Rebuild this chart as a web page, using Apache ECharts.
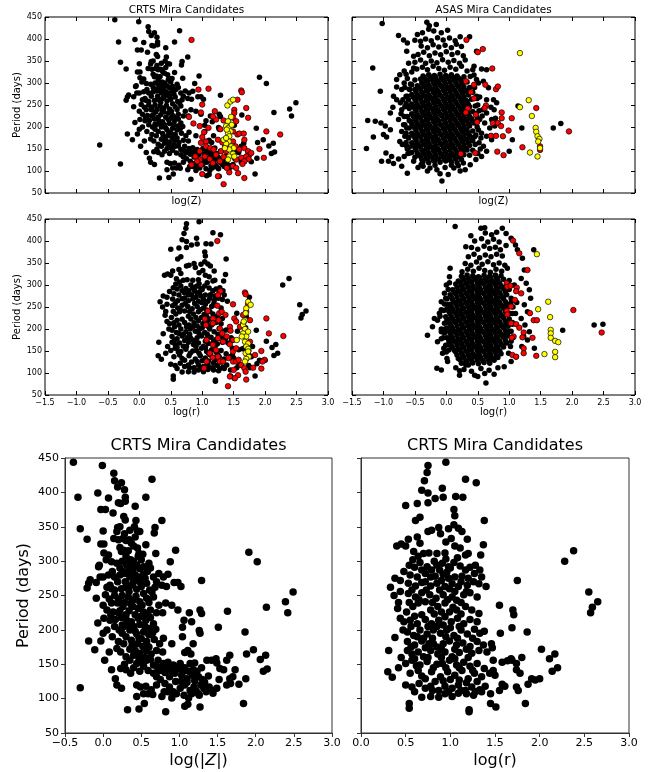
<!DOCTYPE html>
<html>
<head>
<meta charset="utf-8">
<title>Mira Candidates</title>
<script src="https://cdn.jsdelivr.net/npm/echarts@6/dist/echarts.min.js"></script>
<style>html,body{margin:0;padding:0;background:#fff;}</style>
</head>
<body>
<div id="main" style="width:653px;height:772px;"></div>
<script>
// CRTS, log(Z) vs period : black / red / yellow
var crtsZ = [[-0.39,444],[-0.01,439],[0.14,428],[0.15,417],[0.64,419],[0.24,414],[0.19,408],[0.28,404],[-0.33,393],[-0.07,399],[0.07,392],[0.56,393],[0.29,393],[0.20,385],[0.23,384],[0.29,387],[0.42,380],[-0.03,375],[0.03,375],[0.13,370],[0.27,365],[0.29,360],[0.43,359],[0.77,359],[-0.30,347],[-0.21,332],[0.19,349],[0.18,343],[0.22,350],[0.41,350],[0.45,344],[0.48,343],[0.00,344],[0.68,349],[0.67,341],[0.14,333],[0.20,331],[0.26,333],[0.34,331],[0.37,326],[-0.03,325],[0.01,325],[0.56,324],[0.45,319],[0.47,311],[0.52,310],[0.22,320],[0.27,316],[0.95,316],[0.01,312],[0.07,309],[-0.06,292],[-0.05,294],[0.04,302],[0.11,299],[0.18,297],[0.24,314],[0.30,307],[0.36,302],[0.60,297],[0.69,311],[0.88,299],[0.46,307],[0.50,302],
  [-0.17,273],[-0.19,268],[-0.21,261],[-0.09,269],[-0.04,277],[0.00,277],[-0.09,246],[0.03,251],[0.15,277],[0.22,280],[0.09,265],[0.11,260],
  [0.31,294],[0.36,292],[0.39,287],[0.44,294],[0.48,289],[0.53,292],[0.22,290],[0.26,285],[0.35,277],[0.42,280],[0.47,277],[0.53,281],
  [0.19,270],[0.29,270],[0.39,268],[0.48,270],[0.57,268],[0.66,277],[0.70,270],[0.15,258],[0.24,260],[0.34,256],[0.44,259],[0.53,253],[0.61,258],
  [0.73,282],[0.79,277],[0.85,281],[0.77,265],[0.83,263],[0.93,269],[0.98,269],[1.02,263],[1.29,272],
  [0.33,248],[0.39,243],[0.48,241],[0.57,246],[0.66,248],[0.11,239],[0.19,239],[0.26,234],[0.05,229],[0.13,226],[0.20,225],
  [0.39,234],[0.46,231],[0.53,226],[0.62,229],[0.73,236],[0.82,239],[0.90,236],[0.98,229],[0.78,225],[1.27,229],[1.29,224],
  [0.01,217],[0.09,214],[-0.07,210],[0.24,218],[0.31,214],[0.37,212],[0.46,217],[0.56,214],[0.66,209],[1.13,225],[1.06,214],[1.16,212],
  [0.15,205],[0.21,200],[0.27,205],[0.35,200],[0.44,194],[0.53,197],[0.61,202],[0.69,201],[0.30,190],[0.37,185],[0.47,188],[0.57,183],[0.67,186],
  [1.04,204],[1.26,199],[1.27,195],[1.51,204],[1.86,197],[-0.19,184],[-0.03,184],[-0.11,171],[0.90,180],[0.79,188],[0.74,180],[1.04,190],[1.18,180],
  [0.18,173],[0.23,168],[0.30,161],[0.35,156],[0.42,170],[0.48,166],[0.56,170],[0.63,165],[0.70,170],[0.78,168],[1.07,167],[1.11,170],[1.15,165],
  [0.02,156],[0.11,142],[0.16,129],[0.23,144],[0.30,142],[0.36,137],[0.44,151],[0.50,153],[0.57,156],
  [0.66,149],[0.72,156],[0.79,151],[0.85,153],[0.92,149],[1.01,151],[1.07,145],[1.14,151],[1.20,152],[1.29,145],[1.36,156],[1.42,156],[1.49,152],[1.48,158],
  [1.62,156],[1.66,163],[1.88,165],[1.97,171],[2.06,157],[2.13,163],[2.10,140],[2.15,143],[1.53,144],[1.58,142],[1.73,142],[1.87,129],[1.63,227],
  [0.59,141],[0.66,137],[0.74,141],[0.81,138],[0.87,132],[0.94,137],[1.03,134],[1.10,129],[1.17,134],[1.25,132],[1.30,128],[1.38,133],[1.52,128],[1.66,129],[1.70,132],
  [0.18,120],[0.24,115],[0.44,120],[0.49,117],[0.56,118],[0.63,113],[0.70,120],[0.81,122],[0.87,117],[0.92,110],[1.01,115],[1.07,120],[1.14,112],[1.19,117],[1.25,107],[1.32,115],[1.39,117],[1.44,112],[1.49,115],[1.62,120],[1.67,122],[1.78,121],[-0.30,116],
  [0.44,103],[0.53,107],[0.59,107],[0.65,106],[0.77,103],[0.85,110],[0.96,107],[1.06,105],[1.16,107],[1.26,105],[1.35,110],[1.44,108],
  [0.54,93],[0.32,84],[0.47,85],[0.82,81],[1.07,89],[1.11,92],[1.27,88],[1.84,93],
  [1.91,313],[2.02,299],[2.39,241],[2.42,225],[2.49,255],[2.14,233],[-0.63,159],
  [0.25,300],[0.32,297],[0.40,300],[0.28,282],[0.33,285],[0.37,265],[0.43,273],[0.50,263],[0.55,275],[0.58,285],[0.62,290],[0.25,250],[0.30,262],[0.20,245],[0.28,240],[0.36,238],[0.43,249],[0.51,236],[0.60,240],[0.64,255],[0.68,262],
  [0.16,215],[0.22,228],[0.30,222],[0.34,228],[0.42,222],[0.50,220],[0.58,222],[0.62,218],[0.70,225],[0.40,205],[0.48,208],[0.55,205],[0.25,195],[0.33,208],[0.42,198],[0.50,187],[0.60,193],[0.65,196],
  [0.38,178],[0.45,180],[0.52,176],[0.60,175],[0.27,180],[0.35,172],[0.40,163],[0.55,160],[0.62,157],[0.47,158],[0.28,150],[0.40,145],[0.48,140],[0.53,147],[0.71,146],[0.78,145],[0.85,145],[0.90,140],[0.98,143],[1.05,140],[1.12,140],[1.18,142],[1.23,140],
  [0.95,125],[1.02,125],[1.10,124],[1.20,126],[1.28,120],[1.33,124],[0.75,128],[0.70,132],[0.80,110],[0.90,101],[1.12,101],[1.22,111],
  [0.07,280],[0.05,262],[0.12,285],[0.08,245],[0.00,236],[0.15,250],[0.10,222],[0.05,200],[0.12,190],[0.20,183],[0.25,207],[0.08,168],[0.00,195],[0.30,330],[0.40,322],[0.33,315],[0.42,335],[0.35,345],[0.28,340]];
var crtsZRed = [[0.83,398],[0.94,285],[1.10,287],[1.00,251],[1.20,236],[0.98,233],[0.79,223],[0.86,208],[0.96,202],[1.10,198],[1.03,188],[1.00,177],[1.06,167],[0.98,164],[1.22,217],[1.29,195],[1.34,215],[1.56,262],[1.62,283],[1.63,279],[1.70,243],[1.51,239],[1.51,232],[1.49,221],[1.73,221],[1.54,213],[1.17,224],[1.49,190],[1.56,183],[1.59,185],[1.66,185],[1.67,171],[2.02,190],[2.24,183],[1.91,150],[1.98,130],[1.49,167],[1.53,156],[1.59,149],[1.67,152],[1.73,145],[1.75,137],[1.70,133],[1.78,141],[1.74,127],[1.62,130],[1.67,122],[1.64,116],[1.54,126],[1.49,111],[1.54,107],[1.57,95],[1.67,84],[1.43,97],[1.39,107],[1.34,70],[1.25,88],[1.00,93],[1.06,156],[1.13,152],[1.18,149],[1.22,137],[1.30,145],[1.38,145],[1.04,133],[1.12,127],[1.17,118],[1.28,122],[1.34,132],[0.96,145],[0.96,126],[0.98,114],[0.83,114],[0.89,133],[0.92,122],[1.25,171],[1.32,165]];
var crtsZYellow = [[1.40,249],[1.45,258],[1.49,262],[1.46,223],[1.41,213],[1.38,202],[1.42,198],[1.45,190],[1.41,186],[1.43,179],[1.47,205],[1.39,194],[1.42,167],[1.38,162],[1.46,156],[1.50,152],[1.43,149],[1.49,139],[1.43,133],[1.41,126],[1.51,133],[1.34,171],[1.38,175],[1.36,152]];

// CRTS, log(r) vs period
var crtsR = [[0.95,444],[0.75,439],[0.74,429],[0.71,417],[1.17,419],[1.29,414],[0.91,406],[0.68,403],[0.75,399],[0.92,393],[1.06,394],[1.14,393],[0.83,391],[0.50,381],[0.63,384],[0.75,385],[1.04,375],[1.05,366],[0.61,359],[0.66,364],[1.38,359],[0.75,343],[0.79,345],[0.87,349],[0.89,340],[0.98,347],[1.04,353],[1.09,348],[1.13,343],[1.19,332],[0.63,335],[0.66,326],[0.53,332],[0.40,322],[0.45,325],[0.50,322],[0.95,328],[1.01,333],[1.37,324],
  [0.59,314],[0.64,307],[0.70,311],[0.76,312],[0.85,311],[0.94,312],[1.05,322],[1.11,319],[1.17,309],[1.20,311],[1.34,309],[2.28,300],[2.38,315],
  [0.54,294],[0.60,291],[0.66,298],[0.74,292],[0.79,287],[0.85,294],[0.91,297],[0.98,292],[1.04,298],[1.11,293],[1.17,287],[1.22,291],[1.28,294],[1.33,287],
  [0.55,280],[0.63,277],[0.72,282],[0.78,277],[0.83,278],[0.92,281],[0.98,275],[1.05,277],[1.13,278],[1.20,275],[1.27,282],[1.35,277],
  [0.44,272],[0.53,268],[0.61,264],[0.68,269],[0.78,264],[0.85,268],[0.94,263],[1.02,267],[1.09,263],[1.19,265],[1.26,270],[1.32,267],[1.40,263],
  [0.33,262],[0.37,250],[0.44,256],
  [0.53,253],[0.61,248],[0.68,254],[0.77,251],[0.84,246],[0.92,251],[1.02,248],[1.07,243],[1.15,251],[1.22,254],[1.30,248],
  [0.41,231],[0.51,226],[0.58,234],[0.64,239],[0.72,241],[0.78,229],[0.86,234],[0.94,239],[0.99,226],[1.07,229],[1.17,234],[1.24,229],[1.32,224],
  [1.55,236],[1.70,229],[1.71,222],
  [0.44,217],[0.48,212],[0.55,214],[0.63,209],[0.72,215],[0.79,209],[0.87,214],[0.94,219],[1.01,212],[1.08,217],[1.15,209],[1.22,215],[1.30,212],
  [1.69,203],[1.86,197],[1.56,195],[1.38,198],[0.38,189],
  [0.52,197],[0.59,192],[0.66,200],[0.74,194],[0.81,200],[0.89,195],[0.96,200],[1.04,192],[1.12,200],[1.19,194],[1.27,201],[1.33,195],
  [0.52,183],[0.60,178],[0.68,184],[0.76,180],[0.85,175],[0.92,180],[0.99,184],[1.07,178],[1.14,181],[1.22,176],[1.30,183],[1.37,178],
  [0.31,170],[0.35,131],[0.30,139],
  [0.52,170],[0.57,165],[0.64,168],[0.70,161],[0.78,170],[0.86,165],[0.94,168],[1.02,161],[1.10,167],[1.18,172],[1.24,166],[1.32,170],[1.41,168],
  [1.46,180],[1.47,174],[2.02,172],[2.11,158],[2.17,165],[2.14,140],[2.20,145],
  [1.69,156],[1.80,160],[1.74,151],[1.74,142],[1.78,137],[1.58,153],[1.64,155],[1.68,158],[1.48,156],
  [0.50,151],[0.57,156],[0.66,149],[0.74,154],[0.81,145],[0.91,151],[0.99,156],[1.07,149],[1.15,153],[1.22,147],[1.30,151],[1.38,144],
  [0.55,137],[0.64,141],[0.72,129],[0.79,139],[0.89,132],[0.97,139],[1.05,134],[1.13,141],[1.20,129],[1.27,137],[1.35,132],[1.44,137],
  [1.48,141],[1.50,134],[1.91,129],[1.87,121],[1.95,127],[2.00,129],
  [0.50,120],[0.57,117],[0.72,115],[0.78,118],[0.87,112],[0.94,118],[1.02,115],[1.09,120],[1.17,112],[1.24,117],[1.33,113],[1.39,118],
  [1.58,121],[1.61,118],[1.74,117],[1.76,112],
  [0.68,102],[0.78,103],[0.87,102],[0.94,107],[1.02,103],[1.09,108],[1.18,107],[1.26,105],[1.35,110],[1.45,107],[1.55,112],
  [0.54,93],[0.54,86],[1.45,93],[1.51,88],[1.84,93],[1.21,84],[1.21,81],
  [2.55,255],[2.57,225],[2.59,233],[2.65,241],[1.75,272],
  [0.58,302],[0.68,287],[0.82,300],[0.95,303],[1.08,305],[0.88,287],[0.96,284],[1.00,290],[0.72,270],[0.90,272],[0.99,260],[1.12,270],[0.57,258],[0.73,258],[0.88,258],[1.05,256],[1.18,256],
  [0.65,244],[0.80,240],[0.97,244],[1.12,240],[0.54,240],[0.68,222],[0.82,223],[0.90,226],[1.03,233],[1.12,223],[0.60,220],[0.75,205],[0.85,205],[0.92,207],[1.00,203],[1.10,205],[0.56,205],
  [0.63,190],[0.70,188],[0.80,188],[0.95,190],[1.08,188],[1.25,188],[0.56,175],[0.72,174],[0.81,180],[0.90,172],[1.05,172],[0.60,158],[0.75,160],[0.90,160],[1.05,158],[1.20,160],
  [0.62,148],[0.85,150],[0.95,145],[1.10,145],[1.25,141],[0.68,133],[0.83,125],[0.92,126],[1.00,128],[1.10,127],[1.18,123],[1.30,125],[0.65,122],[0.80,112],[0.98,110],[1.12,112],[1.28,110],[0.60,110],
  [0.45,160],[0.42,145],[0.47,200],[0.42,240],[0.48,285],[0.38,275]];
var crtsRRed = [[1.24,400],[1.29,286],[1.25,277],[1.24,253],[1.09,241],[1.27,236],[1.31,239],[1.37,232],[1.04,223],[1.17,224],[1.06,209],[1.17,213],[1.26,220],[1.49,256],[1.51,224],[1.54,217],[1.65,232],[1.70,239],[1.73,256],[1.68,283],[1.69,279],[1.60,205],[1.65,212],[1.76,220],[1.44,205],[1.45,196],[1.28,201],[1.32,190],[1.25,179],[1.33,171],[1.39,183],[1.49,175],[1.07,175],[1.17,164],[1.22,152],[1.12,145],[1.17,135],[1.25,137],[1.28,126],[1.33,126],[1.03,111],[1.07,126],[1.44,165],[1.49,149],[1.54,156],[1.42,134],[1.49,126],[1.54,126],[1.58,130],[1.62,118],[1.67,111],[1.69,103],[1.50,107],[1.57,95],[1.52,88],[1.44,92],[1.41,70],[1.70,85],[1.81,112],[1.84,141],[1.99,130],[1.96,126],[1.94,150],[2.06,190],[2.02,224],[2.29,184],[1.94,110],[1.76,171]];
var crtsRYellow = [[1.73,262],[1.77,255],[1.70,247],[1.69,236],[1.68,220],[1.65,209],[1.68,200],[1.65,190],[1.70,183],[1.68,171],[1.73,167],[1.70,160],[1.73,155],[1.69,145],[1.74,137],[1.70,132],[1.68,126],[1.73,149],[1.55,175],[1.73,194],[1.63,183],[1.66,217]];

// ASAS, log(Z) vs period (outer stars, then the crowded middle)
var asasZ = [[-1.02,435],[-1.17,334],[-1.05,281],[-1.25,215],[-1.13,213],[-1.16,177],[-1.27,151],[-1.04,209],[-0.97,202],[-0.89,194],[-0.95,177],[-1.00,183],[-0.96,141],[-1.03,122],[-0.92,122],[-0.87,133],[-0.84,117],[-0.76,127],[-0.71,111],[-0.62,95],[-0.89,232],[-0.85,245],[-0.79,262],[-0.84,270],[-0.76,408],[-0.68,398],[-0.62,391],[-0.79,308],[-0.74,319],[-0.67,327],[-0.79,291],[-0.31,438],[-0.27,430],[-0.16,433],[-0.46,410],[-0.38,414],[-0.50,397],[-0.41,395],[-0.63,372],[-0.52,361],[-0.60,345],[-0.52,334],[-0.67,300],[-0.71,285],[-0.64,270],[-0.73,255],[-0.71,239],[-0.67,224],[-0.76,217],[-0.66,205],[-0.71,190],[-0.66,179],[-0.74,167],[-0.63,156],[-0.58,141],[-0.67,133],[-0.52,122],[-0.37,111],[-0.26,107],[-0.15,103],[-0.07,77],[-0.10,94],[0.03,92],[0.12,107],[0.19,112],[0.30,103],[0.27,118],[0.37,405],[0.48,372],[0.44,338],[0.56,332],[0.64,330],[0.38,315],[0.48,308],[0.59,304],[0.67,289],[0.64,262],[0.71,245],[0.58,239],[0.64,232],[0.53,217],[0.61,209],[0.69,198],[0.77,202],[0.56,186],[0.64,179],[0.72,171],[0.52,164],[0.59,156],[0.64,145],[0.56,133],[0.47,126],[0.38,114],[1.00,145],[1.05,171],[1.20,198],[1.70,198],[1.82,208],[1.14,248],[0.75,262],[0.80,255],[0.76,239],[0.72,217],[0.78,220],
  [-0.55,325],[-0.47,332],[-0.38,336],[-0.30,330],[-0.21,338],[-0.12,333],[-0.03,329],[0.06,336],[0.15,331],[0.24,338],[0.33,327],
  [-0.50,347],[-0.41,352],[-0.33,345],[-0.24,350],[-0.15,346],[-0.06,353],[0.03,347],[0.12,351],[0.21,345],[0.30,352],
  [-0.45,365],[-0.36,370],[-0.27,362],[-0.18,368],[-0.09,364],[0.00,371],[0.09,365],[0.18,369],[0.27,362],
  [-0.40,384],[-0.30,380],[-0.21,387],[-0.12,382],[-0.02,386],[0.08,380],[0.16,388],[0.24,383],
  [-0.33,400],[-0.24,396],[-0.14,403],[-0.05,398],[0.05,402],[0.14,396],[0.22,405],
  [-0.20,418],[-0.08,414],[0.02,420],[-0.28,422],
  [-0.62,150],[-0.60,175],[-0.63,198],[-0.59,215],[-0.62,248],[-0.60,262],[-0.58,285],[-0.62,310],[-0.57,298],[-0.64,320],
  [0.45,290],[0.48,270],[0.50,250],[0.47,230],[0.49,200],[0.45,178],[0.50,140],[0.44,318],[0.42,330],
  [-0.45,108],[-0.30,100],[-0.18,113],[-0.02,108],[0.08,113],[0.22,100],[-0.40,115],
  [-0.70,160],[-0.68,205],[-0.72,230],[-0.69,262],[-0.66,290],[-0.61,140],[-0.66,246],[0.55,175],[0.57,225],[0.53,268],[0.54,150],[0.51,300],
  [-0.37,121],[-0.28,119],[-0.19,122],[-0.10,120],[-0.01,123],[0.08,121],[0.17,119],
  [-0.39,126],[-0.30,127],[-0.21,125],[-0.12,127],[-0.03,126],[0.06,125],[0.15,127],[0.24,126],
  [-0.50,131],[-0.41,133],[-0.32,130],[-0.23,132],[-0.14,129],[-0.05,132],[0.04,130],[0.13,133],[0.22,131],
  [-0.44,136],[-0.35,138],[-0.26,137],[-0.17,136],[-0.08,138],[0.01,137],[0.10,136],[0.19,138],[0.28,137],[0.37,136],
  [-0.55,142],[-0.46,140],[-0.37,143],[-0.28,141],[-0.19,144],[-0.10,141],[-0.01,143],[0.08,140],[0.17,142],[0.26,144],
  [-0.48,148],[-0.39,147],[-0.30,149],[-0.21,148],[-0.12,147],[-0.03,149],[0.06,148],[0.15,147],[0.24,149],[0.33,148],[0.42,147],
  [-0.59,154],[-0.50,153],[-0.41,155],[-0.32,152],[-0.23,154],[-0.14,151],[-0.05,153],[0.04,155],[0.13,152],[0.22,154],[0.31,151],
  [-0.53,159],[-0.44,158],[-0.35,160],[-0.26,159],[-0.17,158],[-0.08,160],[0.01,159],[0.10,158],[0.19,160],[0.28,159],[0.37,158],[0.46,160],
  [-0.64,165],[-0.55,164],[-0.46,162],[-0.37,165],[-0.28,163],[-0.19,166],[-0.10,163],[-0.01,165],[0.08,162],[0.17,164],[0.26,166],[0.35,163],
  [-0.48,170],[-0.39,169],[-0.30,171],[-0.21,170],[-0.12,169],[-0.03,171],[0.06,170],[0.15,169],[0.24,171],[0.33,170],[0.42,169],
  [-0.60,176],[-0.50,175],[-0.41,177],[-0.32,174],[-0.23,176],[-0.14,173],[-0.05,175],[0.04,177],[0.13,174],[0.22,176],[0.31,173],[0.40,175],
  [-0.53,181],[-0.44,180],[-0.35,182],[-0.26,181],[-0.17,180],[-0.08,182],[0.01,181],[0.10,180],[0.19,182],[0.28,181],[0.37,180],[0.47,182],
  [-0.64,186],[-0.55,186],[-0.46,184],[-0.37,187],[-0.28,185],[-0.19,188],[-0.10,185],[-0.01,187],[0.08,184],[0.17,186],[0.26,188],[0.35,185],
  [-0.48,192],[-0.39,191],[-0.30,193],[-0.21,192],[-0.12,191],[-0.03,193],[0.06,192],[0.15,191],[0.24,193],[0.33,192],[0.42,191],[0.51,193],
  [-0.59,198],[-0.50,197],[-0.41,199],[-0.32,196],[-0.23,198],[-0.14,195],[-0.05,197],[0.04,199],[0.13,196],[0.22,198],[0.31,195],
  [-0.53,203],[-0.44,202],[-0.35,204],[-0.26,203],[-0.17,202],[-0.08,204],[0.01,203],[0.10,202],[0.19,204],[0.28,203],[0.37,202],
  [-0.55,208],[-0.46,206],[-0.37,209],[-0.28,207],[-0.19,210],[-0.10,207],[-0.01,209],[0.08,206],[0.17,208],[0.26,210],[0.35,207],[0.44,209],
  [-0.57,213],[-0.48,214],[-0.39,213],[-0.30,215],[-0.21,214],[-0.12,213],[-0.03,215],[0.06,214],[0.15,213],[0.24,215],[0.33,214],[0.42,213],
  [-0.50,219],[-0.41,221],[-0.32,218],[-0.23,220],[-0.14,217],[-0.05,219],[0.04,221],[0.13,218],[0.22,220],[0.31,217],[0.40,219],[0.49,221],
  [-0.62,224],[-0.53,225],[-0.44,224],[-0.35,226],[-0.26,225],[-0.17,224],[-0.08,226],[0.01,225],[0.10,224],[0.19,226],[0.28,225],[0.37,224],
  [-0.55,230],[-0.46,228],[-0.37,231],[-0.28,229],[-0.19,232],[-0.10,229],[-0.01,231],[0.08,228],[0.17,230],[0.26,232],[0.35,229],
  [-0.48,236],[-0.39,235],[-0.30,237],[-0.21,236],[-0.12,235],[-0.03,237],[0.06,236],[0.15,235],[0.24,237],[0.33,236],[0.42,235],[0.52,237],
  [-0.59,242],[-0.50,241],[-0.41,243],[-0.32,240],[-0.23,242],[-0.14,239],[-0.05,241],[0.04,243],[0.13,240],[0.22,242],[0.31,239],
  [-0.53,247],[-0.44,246],[-0.35,248],[-0.26,247],[-0.17,246],[-0.08,248],[0.01,247],[0.10,246],[0.19,248],[0.28,247],[0.37,246],[0.46,248],
  [-0.64,253],[-0.55,252],[-0.46,250],[-0.37,253],[-0.28,251],[-0.19,254],[-0.10,251],[-0.01,253],[0.08,250],[0.17,252],[0.26,254],[0.35,251],
  [-0.48,258],[-0.39,257],[-0.30,259],[-0.21,258],[-0.12,257],[-0.03,259],[0.06,258],[0.15,257],[0.24,259],[0.33,258],
  [-0.50,263],[-0.41,265],[-0.32,262],[-0.23,264],[-0.14,261],[-0.05,263],[0.04,265],[0.13,262],[0.22,264],[0.31,261],[0.40,263],[0.49,265],
  [-0.62,270],[-0.53,269],[-0.44,268],[-0.35,270],[-0.26,269],[-0.17,268],[-0.08,270],[0.01,269],[0.10,268],[0.19,270],[0.28,269],
  [-0.55,274],[-0.46,272],[-0.37,275],[-0.28,273],[-0.19,276],[-0.10,273],[-0.01,275],[0.08,272],[0.17,274],[0.26,276],[0.35,273],
  [-0.48,280],[-0.39,279],[-0.30,281],[-0.21,280],[-0.12,279],[-0.03,281],[0.06,280],[0.15,279],[0.24,281],[0.33,280],[0.42,279],
  [-0.59,286],[-0.50,285],[-0.41,287],[-0.32,284],[-0.23,286],[-0.14,283],[-0.05,285],[0.04,287],[0.13,284],[0.22,286],[0.31,283],
  [-0.44,290],[-0.35,292],[-0.26,291],[-0.17,290],[-0.08,292],[0.01,291],[0.10,290],[0.19,292],[0.28,291],[0.37,290],
  [-0.55,296],[-0.46,294],[-0.37,297],[-0.28,295],[-0.19,298],[-0.10,295],[-0.01,297],[0.08,294],[0.17,296],[0.26,298],
  [-0.39,301],[-0.30,303],[-0.21,302],[-0.12,301],[-0.03,303],[0.06,302],[0.15,301],[0.24,303],[0.33,302],
  [-0.50,307],[-0.41,309],[-0.32,306],[-0.23,308],[-0.14,305],[-0.05,307],[0.04,309],[0.13,306],[0.22,308],
  [-0.35,312],[-0.26,314],[-0.17,313],[-0.08,312],[0.01,314],[0.10,313],[0.19,312],[0.28,314],
  [-0.37,316],[-0.28,319],[-0.19,317],[-0.10,320],[-0.01,317],[0.08,319],[0.17,316]];
var asasZRed = [[0.32,398],[0.50,370],[0.58,377],[0.73,333],[0.31,304],[0.44,296],[0.62,296],[0.79,286],[0.82,292],[0.39,279],[0.44,265],[0.34,242],[0.31,233],[0.63,249],[0.61,243],[0.47,228],[0.49,211],[0.88,233],[0.88,220],[1.04,220],[0.74,209],[0.82,209],[0.87,202],[0.90,179],[0.71,180],[0.79,180],[0.99,192],[0.81,144],[0.91,136],[1.21,154],[0.23,139],[0.46,141],[1.43,243],[1.49,156],[1.49,148],[1.95,190]];
var asasZYellow = [[1.17,368],[1.31,261],[1.17,245],[1.36,225],[1.42,198],[1.43,189],[1.45,179],[1.48,173],[1.46,167],[1.33,142],[1.45,133],[1.49,152]];

// ASAS, log(r) vs period (outer stars, then the crowded middle)
var asasR = [[0.14,433],[0.55,429],[0.61,430],[0.39,412],[0.31,387],[0.06,338],[-0.30,186],[-0.22,205],[-0.14,220],[-0.08,194],[-0.15,111],[-0.08,107],[0.02,126],[0.00,148],[0.21,95],[0.21,105],[0.31,118],[0.50,92],[0.61,99],[0.76,97],[0.63,77],[-0.08,262],[-0.03,281],[0.00,300],[0.05,319],[-0.11,236],[-0.19,224],[-0.14,171],[-0.04,156],[0.01,133],[0.89,429],[0.95,417],[1.03,406],[1.10,391],[1.13,380],[1.21,361],[1.24,334],[1.19,315],[1.27,304],[1.32,289],[1.34,270],[1.24,255],[1.29,239],[1.19,224],[1.25,209],[1.32,194],[1.23,183],[1.29,175],[1.20,160],[1.11,137],[1.03,126],[0.92,114],[1.39,380],[1.40,156],[1.85,197],[2.35,209],[2.49,211],
  [0.25,330],[0.34,336],[0.43,331],[0.52,338],[0.61,333],[0.70,329],[0.79,336],[0.88,331],[0.97,338],
  [0.30,349],[0.39,345],[0.48,352],[0.57,347],[0.66,353],[0.75,346],[0.84,350],[0.93,345],
  [0.35,364],[0.44,370],[0.53,362],[0.62,368],[0.71,364],[0.80,370],[0.89,366],
  [0.40,385],[0.50,381],[0.60,388],[0.69,383],[0.78,386],[0.86,380],[0.95,390],
  [0.45,400],[0.56,405],[0.66,398],[0.75,404],[0.84,398],
  [0.62,418],[0.72,414],[0.80,420],
  [-0.05,180],[-0.02,200],[0.00,215],[-0.04,242],[0.02,255],[-0.01,270],[0.03,165],[-0.06,145],[0.03,290],[0.05,305],
  [1.00,290],[1.03,270],[1.06,250],[1.02,235],[1.05,215],[1.00,195],[1.06,180],[1.02,160],[0.99,145],[1.00,310],[1.08,300],[1.10,235],[1.12,260],
  [0.15,112],[0.28,108],[0.40,104],[0.55,110],[0.68,106],[0.82,112],[0.45,95],[0.35,118],
  [0.24,122],[0.33,125],[0.42,123],[0.51,121],[0.60,124],[0.69,122],
  [0.22,130],[0.31,128],[0.40,130],[0.49,129],[0.58,128],[0.67,130],[0.76,129],
  [0.19,133],[0.28,136],[0.37,134],[0.46,137],[0.55,134],[0.64,136],[0.73,133],[0.82,135],
  [0.17,141],[0.26,139],[0.35,141],[0.44,140],[0.53,139],[0.62,141],[0.71,140],[0.80,139],
  [0.15,148],[0.24,145],[0.33,147],[0.42,144],[0.51,146],[0.60,148],[0.69,145],[0.78,147],[0.87,144],
  [0.04,152],[0.13,151],[0.22,152],[0.31,150],[0.40,152],[0.49,151],[0.58,150],[0.67,152],[0.76,151],[0.85,150],
  [0.10,157],[0.19,155],[0.28,158],[0.37,156],[0.46,159],[0.55,156],[0.64,158],[0.73,155],[0.82,157],[0.91,159],
  [-0.01,163],[0.08,162],[0.17,163],[0.26,161],[0.35,163],[0.44,162],[0.53,161],[0.62,163],[0.71,162],[0.80,161],[0.89,163],
  [0.06,168],[0.15,170],[0.24,167],[0.33,169],[0.42,166],[0.51,168],[0.60,170],[0.69,167],[0.78,169],[0.87,166],[0.96,168],
  [0.04,174],[0.13,173],[0.22,174],[0.31,172],[0.40,174],[0.49,173],[0.58,172],[0.67,174],[0.76,173],[0.85,172],[0.94,174],[1.03,172],
  [-0.08,178],[0.01,180],[0.10,179],[0.19,177],[0.28,180],[0.37,178],[0.46,181],[0.55,178],[0.64,180],[0.73,177],[0.82,179],[0.91,181],
  [0.08,184],[0.17,185],[0.26,183],[0.35,185],[0.44,184],[0.53,183],[0.62,185],[0.71,184],[0.80,183],[0.89,185],[0.98,184],
  [-0.03,191],[0.06,190],[0.15,192],[0.24,189],[0.33,191],[0.42,188],[0.51,190],[0.60,192],[0.69,189],[0.78,191],[0.87,188],[0.96,190],
  [0.04,196],[0.13,195],[0.22,196],[0.31,194],[0.40,196],[0.49,195],[0.58,194],[0.67,196],[0.76,195],[0.85,194],[0.94,196],[1.03,195],
  [-0.08,200],[0.01,202],[0.10,201],[0.19,199],[0.28,202],[0.37,200],[0.46,203],[0.55,200],[0.64,202],[0.73,199],[0.82,201],[0.91,203],
  [0.08,206],[0.17,207],[0.26,205],[0.35,207],[0.44,206],[0.53,205],[0.62,207],[0.71,206],[0.80,205],[0.89,207],[0.98,206],
  [-0.03,213],[0.06,212],[0.15,214],[0.24,211],[0.33,213],[0.42,210],[0.51,212],[0.60,214],[0.69,211],[0.78,213],[0.87,210],[0.96,212],[1.05,211],
  [0.04,218],[0.13,217],[0.22,218],[0.31,216],[0.40,218],[0.49,217],[0.58,216],[0.67,218],[0.76,217],[0.85,216],[0.94,218],
  [0.01,222],[0.10,223],[0.19,221],[0.28,224],[0.37,222],[0.46,225],[0.55,222],[0.64,224],[0.73,221],[0.82,223],[0.91,225],[1.00,223],
  [-0.10,229],[-0.01,228],[0.08,228],[0.17,229],[0.26,227],[0.35,229],[0.44,228],[0.53,227],[0.62,229],[0.71,228],[0.80,227],[0.89,229],
  [0.06,234],[0.15,236],[0.24,233],[0.33,235],[0.42,232],[0.51,234],[0.60,236],[0.69,233],[0.78,235],[0.87,232],[0.96,234],[1.05,235],
  [0.04,240],[0.13,239],[0.22,240],[0.31,238],[0.40,240],[0.49,239],[0.58,238],[0.67,240],[0.76,239],[0.85,238],[0.94,240],
  [-0.08,244],[0.01,246],[0.10,245],[0.19,243],[0.28,246],[0.37,244],[0.46,247],[0.55,244],[0.64,246],[0.73,243],[0.82,245],[0.91,247],
  [0.08,250],[0.17,251],[0.26,249],[0.35,251],[0.44,250],[0.53,249],[0.62,251],[0.71,250],[0.80,249],[0.89,251],[0.98,250],
  [-0.03,257],[0.06,256],[0.15,258],[0.24,255],[0.33,257],[0.42,254],[0.51,256],[0.60,258],[0.69,255],[0.78,257],[0.87,254],[0.96,256],
  [0.13,261],[0.22,262],[0.31,260],[0.40,262],[0.49,261],[0.58,260],[0.67,262],[0.76,261],[0.85,260],[0.94,262],[1.03,261],
  [0.01,268],[0.10,267],[0.19,265],[0.28,268],[0.37,266],[0.46,269],[0.55,266],[0.64,268],[0.73,265],[0.82,267],[0.91,269],
  [0.08,272],[0.17,273],[0.26,271],[0.35,273],[0.44,272],[0.53,271],[0.62,273],[0.71,272],[0.80,271],[0.89,273],
  [0.06,278],[0.15,280],[0.24,277],[0.33,279],[0.42,276],[0.51,278],[0.60,280],[0.69,277],[0.78,279],[0.87,276],[0.96,278],
  [0.13,283],[0.22,284],[0.31,282],[0.40,284],[0.49,283],[0.58,282],[0.67,284],[0.76,283],[0.85,282],[0.94,284],
  [0.10,289],[0.19,287],[0.28,290],[0.37,288],[0.46,291],[0.55,288],[0.64,290],[0.73,287],[0.82,289],[0.91,291],
  [0.17,295],[0.26,293],[0.35,295],[0.44,294],[0.53,293],[0.62,295],[0.71,294],[0.80,293],[0.89,295],
  [0.15,302],[0.24,299],[0.33,301],[0.42,298],[0.51,300],[0.60,302],[0.69,299],[0.78,301],[0.87,298],[0.96,300],
  [0.22,306],[0.31,304],[0.40,306],[0.49,305],[0.58,304],[0.67,306],[0.76,305],[0.85,304],
  [0.19,309],[0.28,312],[0.37,310],[0.46,313],[0.55,310],[0.64,312],[0.73,309],[0.82,311],[0.91,313],
  [0.26,317],[0.35,315],[0.44,317],[0.53,316],[0.62,315],[0.71,317],[0.80,316],
  [0.24,320],[0.33,323],[0.42,321],[0.51,319],[0.60,322],[0.69,320],[0.78,323],[0.87,321]];
var asasRRed = [[1.06,401],[1.16,372],[1.29,334],[0.96,304],[0.97,296],[1.02,298],[1.12,294],[1.11,286],[1.19,281],[1.09,266],[1.03,251],[0.96,241],[0.97,233],[1.33,236],[1.03,213],[1.11,211],[1.16,203],[1.23,192],[1.39,220],[1.44,220],[1.21,181],[1.07,183],[1.04,180],[1.37,180],[1.23,156],[1.23,145],[1.05,141],[1.11,137],[1.43,139],[2.02,243],[2.47,192]];
var asasRYellow = [[1.44,370],[1.46,245],[1.62,262],[1.65,227],[1.66,198],[1.66,190],[1.66,180],[1.73,173],[1.78,170],[1.73,148],[1.73,136],[1.56,143]];

var font = 'DejaVu Sans';
var fmt = function (v) { return (v < 0 ? '\u2212' : '') + Math.abs(v).toFixed(1); };

var grids = [], xAxes = [], yAxes = [], series = [];

function addSeries(ax, data, color, size, border) {
    series.push({
        type: 'scatter', xAxisIndex: ax[0], yAxisIndex: ax[1], data: data,
        symbolSize: size, silent: true,
        itemStyle: { color: color, borderColor: '#000', borderWidth: border, opacity: 1 }
    });
}

// old matplotlib look: ticks inside on all four sides
function classicPanel(box, o) {
    var gi = grids.length;
    grids.push({ left: box[0], top: box[1], width: box[2], height: box[3], show: true, borderColor: '#000', borderWidth: 1, backgroundColor: 'rgba(0,0,0,0)' });
    var tick = { show: true, inside: true, length: 4, lineStyle: { color: '#000', width: 1 } };
    var line = { show: false, onZero: false };
    var xi = xAxes.length, yi = yAxes.length;
    xAxes.push({
        type: 'value', gridIndex: gi, min: -1.5, max: 3, interval: 0.5, position: 'bottom',
        axisLine: line, axisTick: tick, splitLine: { show: false },
        axisLabel: { show: o.xLabels, fontSize: 8, color: '#000', margin: 4, fontFamily: font, formatter: fmt },
        name: o.xName, nameLocation: 'middle', nameGap: o.xGap,
        nameTextStyle: { fontSize: 10, color: '#000', fontFamily: font }
    });
    xAxes.push({
        type: 'value', gridIndex: gi, min: -1.5, max: 3, interval: 0.5, position: 'top',
        axisLine: line, axisTick: tick, splitLine: { show: false }, axisLabel: { show: false }
    });
    yAxes.push({
        type: 'value', gridIndex: gi, min: 50, max: 450, interval: 50, position: 'left',
        axisLine: line, axisTick: tick, splitLine: { show: false },
        axisLabel: { show: o.yLabels, fontSize: 8, color: '#000', margin: 3, fontFamily: font },
        name: o.yLabels ? 'Period (days)' : '', nameLocation: 'middle', nameGap: 21,
        nameTextStyle: { fontSize: 10, color: '#000', fontFamily: font }
    });
    yAxes.push({
        type: 'value', gridIndex: gi, min: 50, max: 450, interval: 50, position: 'right',
        axisLine: line, axisTick: tick, splitLine: { show: false }, axisLabel: { show: false }
    });
    var ax = [xi, yi];
    addSeries(ax, o.black, '#000', 5.5, 0);
    addSeries(ax, o.red, '#ff0000', 5.5, 0.7);
    addSeries(ax, o.yellow, '#ffff00', 5.5, 0.7);
}

// newer matplotlib look: ticks outside, left and bottom only
function modernPanel(box, o) {
    var gi = grids.length;
    grids.push({ left: box[0], top: box[1], width: box[2], height: box[3], show: true, borderColor: '#333', borderWidth: 1, backgroundColor: 'rgba(0,0,0,0)' });
    var tick = { show: true, inside: false, length: 4, lineStyle: { color: '#333', width: 1 } };
    var line = { show: true, onZero: false, lineStyle: { color: '#333' } };
    var xi = xAxes.length, yi = yAxes.length;
    xAxes.push({
        type: 'value', gridIndex: gi, min: o.xMin, max: 3, interval: 0.5, position: 'bottom',
        axisLine: line, axisTick: tick, splitLine: { show: false },
        axisLabel: { fontSize: 11, color: '#000', margin: 5, fontFamily: font, formatter: fmt },
        name: o.xName, nameLocation: 'middle', nameGap: 20,
        nameTextStyle: { fontSize: 16, color: '#000', fontFamily: font,
            rich: { i: { fontStyle: 'italic', fontSize: 16, color: '#000', fontFamily: font } } }
    });
    yAxes.push({
        type: 'value', gridIndex: gi, min: 50, max: 450, interval: 50, position: 'left',
        axisLine: line, axisTick: tick, splitLine: { show: false },
        axisLabel: { show: o.yLabels, fontSize: 11, color: '#000', margin: 6, fontFamily: font },
        name: o.yLabels ? 'Period (days)' : '', nameLocation: 'middle', nameGap: 33,
        nameTextStyle: { fontSize: 16, color: '#000', fontFamily: font }
    });
    addSeries([xi, yi], o.black, '#000', 7.5, 0);
}

classicPanel([45, 17, 283, 176], { xLabels: false, yLabels: true, xName: 'log(Z)', xGap: 3, black: crtsZ, red: crtsZRed, yellow: crtsZYellow });
classicPanel([352, 17, 283, 176], { xLabels: false, yLabels: false, xName: 'log(Z)', xGap: 3, black: asasZ, red: asasZRed, yellow: asasZYellow });
classicPanel([45, 219, 283, 176], { xLabels: true, yLabels: true, xName: 'log(r)', xGap: 12, black: crtsR, red: crtsRRed, yellow: crtsRYellow });
classicPanel([352, 219, 283, 176], { xLabels: true, yLabels: false, xName: 'log(r)', xGap: 12, black: asasR, red: asasRRed, yellow: asasRYellow });
modernPanel([65, 458, 267, 275], { xMin: -0.5, yLabels: true, xName: 'log(|{i|Z}|)', black: crtsZ });
modernPanel([361, 458, 268, 275], { xMin: 0, yLabels: false, xName: 'log(r)', black: crtsR });

function title(text, x, y, size) {
    return { type: 'text', x: x, y: y, silent: true,
        style: { text: text, fill: '#000', fontSize: size, fontFamily: font, textAlign: 'center', textVerticalAlign: 'middle', verticalAlign: 'middle' } };
}

var myChart = echarts.init(document.getElementById('main'), null, { renderer: 'canvas' });
myChart.setOption({
    animation: false,
    backgroundColor: '#fff',
    grid: grids,
    xAxis: xAxes,
    yAxis: yAxes,
    series: series,
    graphic: [
        title('CRTS Mira Candidates', 186.5, 10, 10.5),
        title('ASAS Mira Candidates', 493.5, 10, 10.5),
        title('CRTS Mira Candidates', 198.5, 446, 16),
        title('CRTS Mira Candidates', 495, 446, 16)
    ]
});
</script>
</body>
</html>
